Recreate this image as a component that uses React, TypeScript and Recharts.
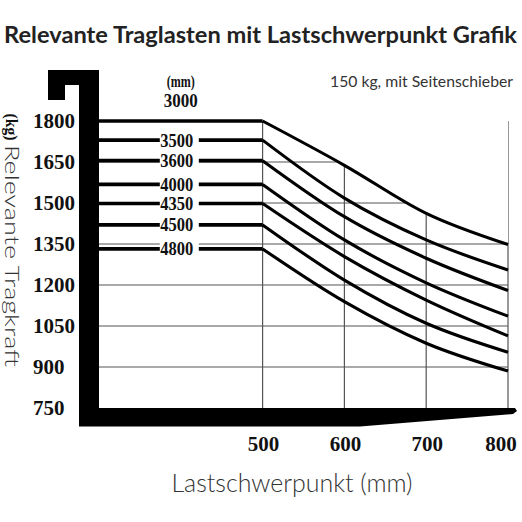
import {
  ComposedChart,
  Line,
  Area,
  Scatter,
  XAxis,
  YAxis,
  CartesianGrid,
  ReferenceArea,
} from 'recharts';

// Lastschwerpunkt (mm) where the capacity curves are read
const COG = [500, 600, 700, 800];
// start of the fork (upright face) and where the mast labels sit
const COG_START = 300;
const COG_LABEL = 400;

// Mast heights (mm)
const MASTS = ['3000', '3500', '3600', '4000', '4350', '4500', '4800'];

// Relevante Tragkraft (kg) per mast height at COG 500/600/700/800
const CAP_3000 = [1800, 1638, 1462, 1348];
const CAP_3500 = [1730, 1518, 1365, 1255];
const CAP_3600 = [1655, 1450, 1298, 1180];
const CAP_4000 = [1568, 1365, 1208, 1086];
const CAP_4350 = [1498, 1304, 1145, 1014];
const CAP_4500 = [1420, 1218, 1060, 954];
const CAP_4800 = [1332, 1139, 987, 885];

const Y_TICKS = [750, 900, 1050, 1200, 1350, 1500, 1650, 1800];
const GRID_Y = [900, 1050, 1200, 1350, 1500, 1650];

const CAPS = [CAP_3000, CAP_3500, CAP_3600, CAP_4000, CAP_4350, CAP_4500, CAP_4800];

// flat part (f...) runs from the upright to 500 mm, curve part (c...) from 500 mm on
const rows = [COG_START, ...COG].map((cog) => {
  const row: Record<string, number | null> = { cog };
  MASTS.forEach((m, i) => {
    const cap = CAPS[i];
    const idx = COG.indexOf(cog);
    row[`f${m}`] = cog <= COG[0] ? cap[0] : null;
    row[`c${m}`] = idx >= 0 ? cap[idx] : null;
  });
  return row;
});

const labels = MASTS.map((m, i) => ({ cog: COG_LABEL, load: CAPS[i][0], mast: m }));

const serif = '"Liberation Serif", "DejaVu Serif", serif';
const sans = 'Lato, "Open Sans", "Noto Sans", sans-serif';

function YTick({ y, payload }: any) {
  return (
    <text x={33} y={y} dy="0.34em" textAnchor="start" fontFamily={serif} fontWeight="bold" fontSize={21} fill="#111">
      {payload.value}
    </text>
  );
}

function XTick({ x, payload }: any) {
  // keep the last label inside the picture, as in the original
  return (
    <text x={Math.min(x + 1, 501)} y={451} textAnchor="middle" fontFamily={serif} fontWeight="bold" fontSize={21} fill="#111">
      {payload.value}
    </text>
  );
}

// black fork outline drawn around the plot frame
function Fork({ x, y, width: w, height: h }: any) {
  const r = x + w;
  const b = y + h;
  const d = [
    `M${x - 51},${y - 51}`,
    `L${x},${y - 51}`,
    `L${x},${b}`,
    `L${r + 7},${b}`,
    `L${r + 9},${b + 3}`,
    `L${r + 5},${b + 6}`,
    `L${x + 261},${b + 18.5}`,
    `L${x - 20},${b + 18.5}`,
    `L${x - 20},${y - 36}`,
    `L${x - 34},${y - 36}`,
    `L${x - 34},${y - 21}`,
    `L${x - 51},${y - 21}`,
    'Z',
  ].join(' ');
  return <path d={d} fill="#000" />;
}

function MastLabel({ cx, cy, payload }: any) {
  if (payload.mast === MASTS[0]) {
    return (
      <g fontFamily={serif} fontWeight="bold" fill="#111">
        <text x={cx} y={cy - 34} textAnchor="middle" fontSize={16} textLength={28} lengthAdjust="spacingAndGlyphs">
          (mm)
        </text>
        <text x={cx} y={cy - 14} textAnchor="middle" fontSize={19} textLength={34} lengthAdjust="spacingAndGlyphs">
          {payload.mast}
        </text>
      </g>
    );
  }
  return (
    <g>
      <rect x={cx - 21} y={cy - 8} width={39} height={16} fill="#fff" />
      <text
        x={cx - 4}
        y={cy + 6.5}
        textAnchor="middle"
        fontFamily={serif}
        fontWeight="bold"
        fontSize={19}
        fill="#111"
        textLength={33}
        lengthAdjust="spacingAndGlyphs"
      >
        {payload.mast}
      </text>
    </g>
  );
}

export default function App() {
  return (
    <div style={{ position: 'absolute', left: 0, top: 0, width: 522, height: 522, background: '#fff' }}>
      <ComposedChart width={522} height={522} data={rows} margin={{ top: 121, right: 14, bottom: 0, left: 0 }}>
        <CartesianGrid
          stroke="#555"
          strokeWidth={1.2}
          horizontalValues={GRID_Y}
          verticalValues={COG}
        />
        <XAxis
          type="number"
          dataKey="cog"
          domain={[COG_START, COG[COG.length - 1]]}
          ticks={COG}
          height={114}
          axisLine={false}
          tickLine={false}
          tick={<XTick />}
        />
        <YAxis
          type="number"
          domain={[Y_TICKS[0], Y_TICKS[Y_TICKS.length - 1]]}
          ticks={Y_TICKS}
          width={99}
          axisLine={false}
          tickLine={false}
          tick={<YTick />}
        />
        {/* hide the grid above the top curve */}
        <Area
          dataKey={`c${MASTS[0]}`}
          baseValue={Y_TICKS[Y_TICKS.length - 1]}
          type="monotone"
          fill="#fff"
          fillOpacity={1}
          stroke="none"
          isAnimationActive={false}
        />
        <ReferenceArea
          x1={COG_START}
          x2={COG[COG.length - 1]}
          y1={Y_TICKS[0]}
          y2={Y_TICKS[Y_TICKS.length - 1]}
          ifOverflow="visible"
          shape={<Fork />}
        />
        {MASTS.map((m) => (
          <Line
            key={`f${m}`}
            dataKey={`f${m}`}
            type="linear"
            stroke="#000"
            strokeWidth={3.6}
            dot={false}
            activeDot={false}
            isAnimationActive={false}
          />
        ))}
        {MASTS.map((m) => (
          <Line
            key={`c${m}`}
            dataKey={`c${m}`}
            type="monotone"
            stroke="#000"
            strokeWidth={3.1}
            dot={false}
            activeDot={false}
            isAnimationActive={false}
          />
        ))}
        <Scatter data={labels} dataKey="load" shape={<MastLabel />} isAnimationActive={false} />
      </ComposedChart>

      <svg width={522} height={522} style={{ position: 'absolute', left: 0, top: 0, pointerEvents: 'none' }}>
        <text x={4} y={43} fontFamily={sans} fontWeight="bold" fontSize={23} fill="#222" textLength={513} lengthAdjust="spacingAndGlyphs">
          Relevante Traglasten mit Lastschwerpunkt Grafik
        </text>
        <text x={330} y={86.5} fontFamily={sans} fontSize={16} fill="#333" textLength={183} lengthAdjust="spacingAndGlyphs">
          150 kg, mit Seitenschieber
        </text>
        <text
          x={6}
          y={127}
          transform="rotate(90, 6, 127)"
          textAnchor="middle"
          fontFamily={serif}
          fontWeight="bold"
          fontSize={16}
          fill="#111"
          textLength={27}
          lengthAdjust="spacingAndGlyphs"
        >
          (kg)
        </text>
        <text
          x={5}
          y={256}
          transform="rotate(90, 5, 256)"
          textAnchor="middle"
          fontFamily={sans}
          fontWeight={300}
          fontSize={19}
          fill="#333"
          textLength={222}
          lengthAdjust="spacingAndGlyphs"
        >
          Relevante Tragkraft
        </text>
        <text
          x={292}
          y={491.5}
          textAnchor="middle"
          fontFamily={sans}
          fontWeight={300}
          fontSize={25}
          fill="#333"
          textLength={241}
          lengthAdjust="spacingAndGlyphs"
        >
          Lastschwerpunkt (mm)
        </text>
      </svg>
    </div>
  );
}
